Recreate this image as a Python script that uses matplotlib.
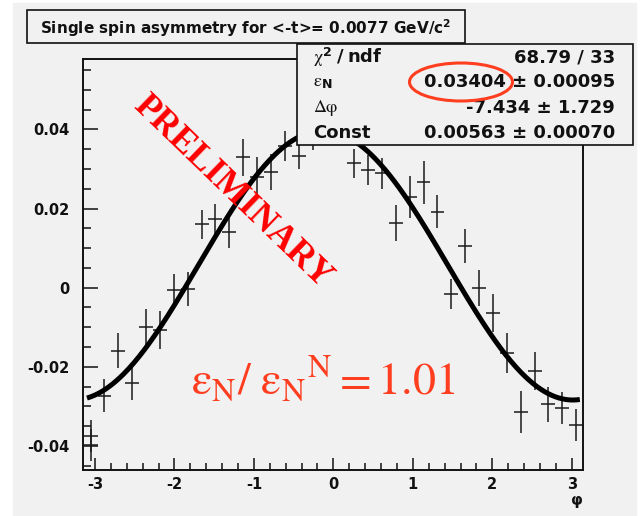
import numpy as np
import matplotlib.pyplot as plt
from matplotlib.patches import Rectangle, Ellipse
from matplotlib.ticker import MultipleLocator

# Greek letters in Times-like symbols, bold pieces in the sans text font
plt.rcParams['mathtext.fontset'] = 'custom'
plt.rcParams['mathtext.rm'] = 'STIXGeneral'
plt.rcParams['mathtext.it'] = 'STIXGeneral:italic'
plt.rcParams['mathtext.bf'] = 'DejaVu Sans:bold'
plt.rcParams['axes.unicode_minus'] = False

# azimuthal bins (rad); the first bin holds two overlapping entries
phi = [-3.054, -3.054, -2.880, -2.705, -2.531, -2.356, -2.182, -2.007, -1.833,
       -1.658, -1.484, -1.309, -1.134, -0.960, -0.785, -0.611, -0.436, -0.262,
       -0.087, 0.087, 0.262, 0.436, 0.611, 0.785, 0.960, 1.134, 1.309,
       1.484, 1.658, 1.833, 2.007, 2.182, 2.356, 2.531, 2.705, 2.880, 3.054]
asym = [-0.0375, -0.0397, -0.0273, -0.0159, -0.0240, -0.0099, -0.0107, -0.0007, -0.0003,
        0.0160, 0.0173, 0.0141, 0.0329, 0.0279, 0.0292, 0.0357, 0.0333, 0.0380,
        0.0410, 0.0400, 0.0314, 0.0297, 0.0289, 0.0164, 0.0230, 0.0266, 0.0192,
        -0.0016, 0.0105, -0.0001, -0.0065, -0.0165, -0.0315, -0.0210, -0.0295, -0.0305, -0.0347]
asym_err = [0.0040, 0.0040, 0.0042, 0.0045, 0.0044, 0.0045, 0.0048, 0.0041, 0.0043,
            0.0037, 0.0038, 0.0042, 0.0048, 0.0050, 0.0045, 0.0038, 0.0033, 0.0033,
            0.0033, 0.0033, 0.0037, 0.0038, 0.0039, 0.0045, 0.0053, 0.0055, 0.0042,
            0.0039, 0.0043, 0.0045, 0.0048, 0.0051, 0.0053, 0.0048, 0.0045, 0.0040, 0.0040]
half_bin = 0.0873

# fit results: A = const + eps_n * cos(phi - dphi)
chi2, ndf = 68.79, 33
eps_n, eps_n_err = 0.03404, 0.00095
dphi_deg, dphi_err = -7.434, 1.729
const, const_err = 0.00563, 0.00070
fit_range = (-3.1, 3.1)

xticks = [-3, -2, -1, 0, 1, 2, 3]
yticks = [-0.04, -0.02, 0, 0.02, 0.04]
ytick_labels = ['-0.04', '-0.02', '0', '0.02', '0.04']

W, H = 644, 516
GRAY = '#f1f1f1'
INK = '#111111'
RED = '#ff3d1f'


def fx(px):
    return px / W


def fy(py):
    return 1 - py / H


fig = plt.figure(figsize=(W / 100, H / 100), dpi=100)
fig.patch.set_facecolor('white')
fig.add_artist(Rectangle((fx(13), 0), fx(636 - 13), (H - 3) / H,
                         transform=fig.transFigure, color=GRAY, zorder=-1))

ax = fig.add_axes([fx(83), 46 / H, fx(500), 411 / H])
ax.set_facecolor(GRAY)

ax.errorbar(phi, asym, yerr=asym_err, xerr=half_bin, fmt='none',
            ecolor='#1a1a1a', elinewidth=1.1, capsize=0, zorder=2)

xf = np.linspace(fit_range[0], fit_range[1], 400)
yf = const + eps_n * np.cos(xf - np.deg2rad(dphi_deg))
ax.plot(xf, yf, color='black', lw=3.6, solid_capstyle='butt', zorder=3)

ax.set_xlim(-3.15, 3.14)
ax.set_ylim(-0.0461, 0.0578)
ax.set_xticks(xticks)
ax.set_yticks(yticks)
ax.set_yticklabels(ytick_labels)
ax.xaxis.set_minor_locator(MultipleLocator(0.2))
ax.yaxis.set_minor_locator(MultipleLocator(0.005))
ax.tick_params(which='both', direction='in', top=False, right=False,
               width=1.1, color=INK, labelsize=10.5, labelcolor=INK)
ax.tick_params(axis='y', which='major', length=11, pad=10)
ax.tick_params(axis='y', which='minor', length=5.5)
ax.tick_params(axis='x', which='major', length=8.5, pad=5)
ax.tick_params(axis='x', which='minor', length=5)
for lbl in ax.get_xticklabels() + ax.get_yticklabels():
    lbl.set_fontweight('bold')
for sp in ax.spines.values():
    sp.set_linewidth(1.4)
    sp.set_color(INK)

fig.text(fx(583), fy(501), 'φ', fontsize=11, fontweight='bold', color=INK,
         ha='right', va='center')

# title box
fig.add_artist(Rectangle((fx(27), fy(43)), fx(465 - 27), 33 / H, transform=fig.transFigure,
                         facecolor=GRAY, edgecolor=INK, lw=1.2, zorder=4))
fig.text(fx(246), fy(27), r'Single spin asymmetry for <-t>= 0.0077 GeV/c$^{\mathbf{2}}$',
         fontsize=11, fontweight='bold', color=INK, ha='center', va='center', zorder=5)

# fit statistics box
fig.add_artist(Rectangle((fx(297), fy(145)), fx(633 - 297), 101 / H, transform=fig.transFigure,
                         facecolor=GRAY, edgecolor=INK, lw=1.2, zorder=4))
stat_labels = [r'$\mathrm{\chi}^{\mathbf{2}}\mathbf{\ /\ ndf}$',
               r'$\mathrm{\varepsilon}_{\mathbf{N}}$',
               r'$\mathrm{\Delta\varphi}$',
               'Const']
stat_values = [f'{chi2:.2f} / {ndf}',
               f'{eps_n:.5f} ± {eps_n_err:.5f}',
               f'{dphi_deg:.3f} ± {dphi_err:.3f}',
               f'{const:.5f} ± {const_err:.5f}']
rows_y = [57, 82, 108, 133]
for lab, val, ry in zip(stat_labels, stat_values, rows_y):
    fig.text(fx(313), fy(ry), lab, fontsize=13, fontweight='bold', color=INK,
             ha='left', va='center', zorder=5)
    fig.text(fx(615), fy(ry), val, fontsize=13, fontweight='bold', color=INK,
             ha='right', va='center', zorder=5)

fig.add_artist(Ellipse((fx(461), fy(82)), fx(103), 38 / H, transform=fig.transFigure,
                       fill=False, edgecolor=RED, lw=2.2, zorder=6))

fig.text(fx(232), fy(192), 'PRELIMINARY', family='Liberation Serif', fontweight='bold',
         fontsize=26, color='red', rotation=-44, rotation_mode='anchor',
         ha='center', va='center', zorder=5)

fig.text(fx(191), fy(395), r'$\mathrm{\varepsilon_N/\ {\varepsilon_N}^N = 1.01}$',
         fontsize=33, color=RED, ha='left', va='baseline', zorder=5)

fig.savefig('out.png', dpi=100)
